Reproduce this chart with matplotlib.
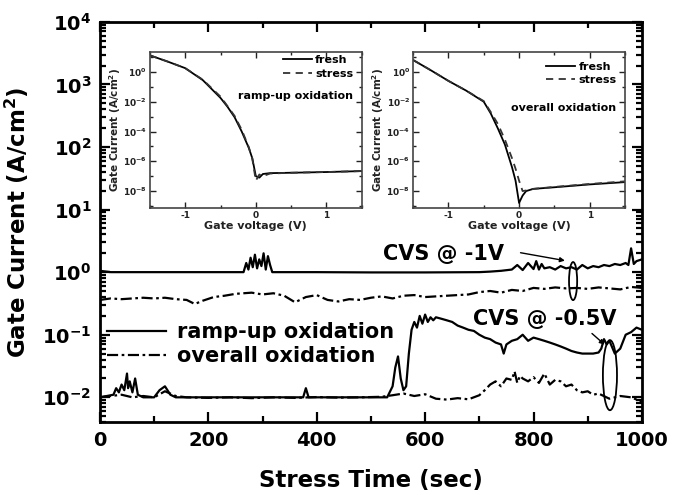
import numpy as np
import matplotlib.pyplot as plt
from matplotlib.patches import Ellipse
from matplotlib.ticker import FixedLocator, LogLocator, NullFormatter, FuncFormatter, MultipleLocator

plt.rcParams['font.family'] = ['DejaVu Sans']
plt.rcParams['font.weight'] = 'bold'
plt.rcParams['axes.labelweight'] = 'bold'
plt.rcParams['mathtext.fontset'] = 'dejavusans'
plt.rcParams['mathtext.default'] = 'bf'

# ---- main data: CVS @ -1V ----
ramp1_t = [0, 20, 100, 200, 265, 270, 274, 278, 282, 286, 290, 294, 298, 302, 306, 310, 314, 318,
           330, 400, 500, 600, 700, 720, 740, 760, 770, 780, 790, 800, 805, 810, 815, 820, 830, 840,
           850, 860, 870, 880, 890, 900, 910, 920, 930, 940, 950, 960, 970, 975, 980, 985, 990, 1000]
ramp1_v = [1.05, 1.0, 1.0, 1.0, 1.0, 1.4, 1.1, 1.7, 1.2, 1.9, 1.15, 1.6, 1.25, 2.0, 1.1, 1.8, 1.3, 1.0,
           1.0, 1.0, 0.99, 0.99, 1.0, 1.02, 1.05, 1.1, 1.3, 1.08, 1.4, 1.12, 1.5, 1.1, 1.35, 1.15, 1.2, 1.1,
           1.25, 1.15, 1.2, 1.1, 1.3, 1.15, 1.25, 1.2, 1.3, 1.25, 1.35, 1.3, 1.4, 1.3, 2.4, 1.35, 1.5, 1.6]

over1_t = [0, 20, 40, 60, 80, 100, 120, 140, 160, 175, 190, 210, 230, 250, 265, 280, 300, 320, 340,
           360, 380, 400, 420, 440, 460, 480, 500, 520, 540, 560, 580, 600, 620, 640, 660, 680, 700,
           720, 740, 760, 780, 800, 820, 840, 860, 880, 900, 920, 940, 960, 980, 1000]
over1_v = [0.36, 0.38, 0.37, 0.38, 0.39, 0.38, 0.39, 0.37, 0.36, 0.31, 0.35, 0.40, 0.42, 0.45, 0.46,
           0.47, 0.44, 0.46, 0.42, 0.33, 0.40, 0.43, 0.36, 0.34, 0.37, 0.36, 0.39, 0.41, 0.38, 0.42,
           0.43, 0.40, 0.41, 0.42, 0.43, 0.44, 0.48, 0.50, 0.47, 0.52, 0.50, 0.56, 0.54, 0.57, 0.55,
           0.56, 0.54, 0.57, 0.55, 0.53, 0.58, 0.56]

# ---- main data: CVS @ -0.5V ----
ramp05_t = [0, 25, 30, 35, 40, 45, 50, 52, 55, 60, 65, 70, 80, 100, 110, 120, 130, 140, 200, 300,
            375, 380, 385, 450, 500, 530, 540, 545, 550, 555, 560, 565, 570, 575, 580, 585, 590, 595,
            600, 605, 610, 615, 620, 630, 640, 650, 660, 670, 680, 690, 700, 710, 720, 730, 740, 745,
            750, 760, 770, 780, 790, 800, 810, 820, 830, 840, 850, 860, 870, 880, 890, 900, 910, 920,
            925, 930, 935, 940, 950, 960, 970, 980, 990, 1000]
ramp05_v = [0.010, 0.011, 0.014, 0.012, 0.016, 0.013, 0.024, 0.014, 0.018, 0.012, 0.020, 0.011, 0.010,
            0.010, 0.013, 0.015, 0.011, 0.010, 0.010, 0.010, 0.010, 0.014, 0.010, 0.010, 0.010, 0.010,
            0.015, 0.030, 0.045, 0.020, 0.013, 0.015, 0.050, 0.12, 0.16, 0.13, 0.20, 0.15, 0.21, 0.16,
            0.19, 0.17, 0.19, 0.18, 0.17, 0.16, 0.14, 0.13, 0.12, 0.115, 0.10, 0.09, 0.085, 0.075,
            0.07, 0.05, 0.07, 0.08, 0.085, 0.10, 0.08, 0.09, 0.085, 0.08, 0.075, 0.07, 0.065, 0.06,
            0.055, 0.052, 0.05, 0.05, 0.05, 0.052, 0.06, 0.085, 0.07, 0.08, 0.05, 0.06, 0.10, 0.11,
            0.13, 0.12]

over05_t = [0, 20, 40, 60, 80, 100, 120, 140, 160, 200, 240, 280, 320, 360, 400, 440, 480, 520, 540,
            560, 580, 600, 620, 640, 660, 680, 700, 710, 720, 730, 740, 750, 760, 765, 770, 775, 780,
            790, 800, 810, 820, 830, 840, 850, 860, 870, 880, 890, 900, 910, 920, 940, 960, 980, 1000]
over05_v = [0.010, 0.0105, 0.011, 0.010, 0.0105, 0.010, 0.0125, 0.0105, 0.010, 0.0098, 0.010, 0.0097,
            0.010, 0.0098, 0.0101, 0.0099, 0.010, 0.0102, 0.0108, 0.0115, 0.0105, 0.0112, 0.0095,
            0.0092, 0.0097, 0.0093, 0.0108, 0.013, 0.016, 0.018, 0.015, 0.020, 0.019, 0.026, 0.017,
            0.022, 0.020, 0.018, 0.021, 0.017, 0.024, 0.016, 0.019, 0.018, 0.015, 0.016, 0.013, 0.012,
            0.0125, 0.011, 0.0115, 0.0095, 0.0105, 0.010, 0.0085]

# ---- inset data (I-V curves) ----
volt = [-1.5, -1.25, -1.0, -0.75, -0.5, -0.4, -0.3, -0.2, -0.1, -0.05, 0.0, 0.05, 0.1, 0.2, 0.5, 1.0, 1.5]
ramp_fresh = [1.3e1, 5.0e0, 1.8e0, 2.8e-1, 1.8e-2, 4.5e-3, 9.0e-4, 1.0e-4, 8.0e-6, 1.6e-6, 1.0e-7,
              8.0e-8, 1.4e-7, 1.6e-7, 1.7e-7, 1.9e-7, 2.2e-7]
ramp_stress = [1.3e1, 5.0e0, 1.8e0, 3.0e-1, 2.2e-2, 5.0e-3, 1.1e-3, 1.3e-4, 9.0e-6, 1.5e-6, 5.0e-8,
               1.3e-7, 1.0e-7, 1.5e-7, 1.7e-7, 1.9e-7, 2.2e-7]
over_fresh = [6.3e0, 1.3e0, 2.5e-1, 5.6e-2, 1.0e-2, 1.6e-3, 1.6e-4, 1.3e-5, 4.0e-7, 5.0e-8, 1.6e-9,
              5.0e-9, 1.0e-8, 1.4e-8, 1.8e-8, 2.8e-8, 4.0e-8]
over_stress = [6.3e0, 1.3e0, 2.5e-1, 5.6e-2, 1.1e-2, 2.0e-3, 3.2e-4, 2.8e-5, 1.6e-6, 3.2e-7, 5.0e-8,
               1.0e-8, 1.1e-8, 1.4e-8, 1.9e-8, 3.0e-8, 4.5e-8]

dashdot = (0, (5, 1.6, 1.2, 1.6))

fig = plt.figure(figsize=(6.75, 4.95), dpi=100)
ax = fig.add_axes([0.148, 0.147, 0.803, 0.809])

l1, = ax.plot(ramp1_t, ramp1_v, color='k', lw=1.6, label='ramp-up oxidation')
l2, = ax.plot(over1_t, over1_v, color='k', lw=1.6, ls=dashdot, label='overall oxidation')
ax.plot(ramp05_t, ramp05_v, color='k', lw=1.6)
ax.plot(over05_t, over05_v, color='k', lw=1.6, ls=dashdot)

ax.set_xlim(0, 1000)
ax.set_yscale('log')
ax.set_ylim(4e-3, 1e4)
ax.xaxis.set_major_locator(MultipleLocator(200))
ax.xaxis.set_minor_locator(MultipleLocator(100))
ax.yaxis.set_major_locator(FixedLocator([10.0 ** k for k in range(-2, 5)]))
ax.yaxis.set_minor_locator(LogLocator(base=10, subs=np.arange(2, 10), numticks=20))
ax.yaxis.set_minor_formatter(NullFormatter())
ax.yaxis.set_major_formatter(FuncFormatter(lambda v, p: r'$10^{%d}$' % round(np.log10(v))))
ax.tick_params(which='both', direction='in', top=True, right=True, width=1.6, labelsize=14)
ax.tick_params(which='major', length=7, pad=6)
ax.tick_params(which='minor', length=4)
for s in ax.spines.values():
    s.set_linewidth(2)
ax.set_xlabel('Stress Time (sec)', fontsize=16.5, labelpad=14)
ax.set_ylabel('Gate Current (A/cm$^2$)', fontsize=16.5, labelpad=8)

ax.legend(handles=[l1, l2], loc='center left', bbox_to_anchor=(0.0, 0.195), frameon=False,
          fontsize=15, handlelength=2.8, handletextpad=0.55, borderaxespad=0, borderpad=0.35,
          labelspacing=0.2)

# annotations
ax.text(633, 1.93, 'CVS @ -1V', fontsize=15, ha='center', va='center')
ax.annotate('', xy=(863, 1.5), xytext=(771, 2.08),
            arrowprops=dict(arrowstyle='-|>', color='k', lw=1.0, mutation_scale=7))
ax.add_patch(Ellipse((0.873, 0.3525), 0.015, 0.095, transform=ax.transAxes,
                     fill=False, ec='k', lw=1.3))
ax.text(821, 0.18, 'CVS @ -0.5V', fontsize=15, ha='center', va='center')
ax.annotate('', xy=(935, 0.065), xytext=(904, 0.112),
            arrowprops=dict(arrowstyle='-|>', color='k', lw=1.0, mutation_scale=7))
ax.add_patch(Ellipse((0.941, 0.1175), 0.026, 0.175, transform=ax.transAxes,
                     fill=False, ec='k', lw=1.3))


def inset(rect, fresh, stress, note, note_y, leg_y):
    a = fig.add_axes(rect)
    a.plot(volt, fresh, color='k', lw=1.3, label='fresh')
    a.plot(volt, stress, color='#333333', lw=1.3, ls=(0, (4, 3)), label='stress')
    a.set_yscale('log')
    a.set_xlim(-1.5, 1.5)
    a.set_ylim(10 ** -9.13, 10 ** 1.34)
    a.yaxis.set_major_locator(FixedLocator([10.0 ** k for k in (-8, -6, -4, -2, 0)]))
    a.yaxis.set_minor_locator(FixedLocator([10.0 ** k for k in (-9, -7, -5, -3, -1, 1)]))
    a.yaxis.set_minor_formatter(NullFormatter())
    a.yaxis.set_major_formatter(FuncFormatter(lambda v, p: r'$10^{%d}$' % round(np.log10(v))))
    a.xaxis.set_major_locator(FixedLocator([-1, 0, 1]))
    a.xaxis.set_minor_locator(FixedLocator([-1.5, -0.5, 0.5, 1.5]))
    a.xaxis.set_major_formatter(FuncFormatter(lambda v, p: '%d' % v))
    a.tick_params(which='both', direction='in', top=True, right=True, width=1.0,
                  labelsize=6.5, colors='#222222', pad=2)
    a.tick_params(which='major', length=4)
    a.tick_params(which='minor', length=2.5)
    for s in a.spines.values():
        s.set_linewidth(1.2)
        s.set_color('#444444')
    a.set_xlabel('Gate voltage (V)', fontsize=8, labelpad=1, color='#222222')
    a.set_ylabel('Gate Current (A/cm$^2$)', fontsize=7.5, labelpad=0, color='#222222')
    a.legend(loc='upper right', bbox_to_anchor=(0.975, leg_y), frameon=False, fontsize=8,
             handlelength=2.6, handletextpad=0.3, borderaxespad=0, borderpad=0.3, labelspacing=0.3)
    a.text(0.96, note_y, note, transform=a.transAxes, fontsize=8, ha='right', va='center')
    return a


inset([0.222, 0.580, 0.314, 0.315], ramp_fresh, ramp_stress, 'ramp-up oxidation', 0.72, 1.0)
inset([0.612, 0.580, 0.314, 0.315], over_fresh, over_stress, 'overall oxidation', 0.64, 0.96)

fig.savefig('out.png', dpi=100)
